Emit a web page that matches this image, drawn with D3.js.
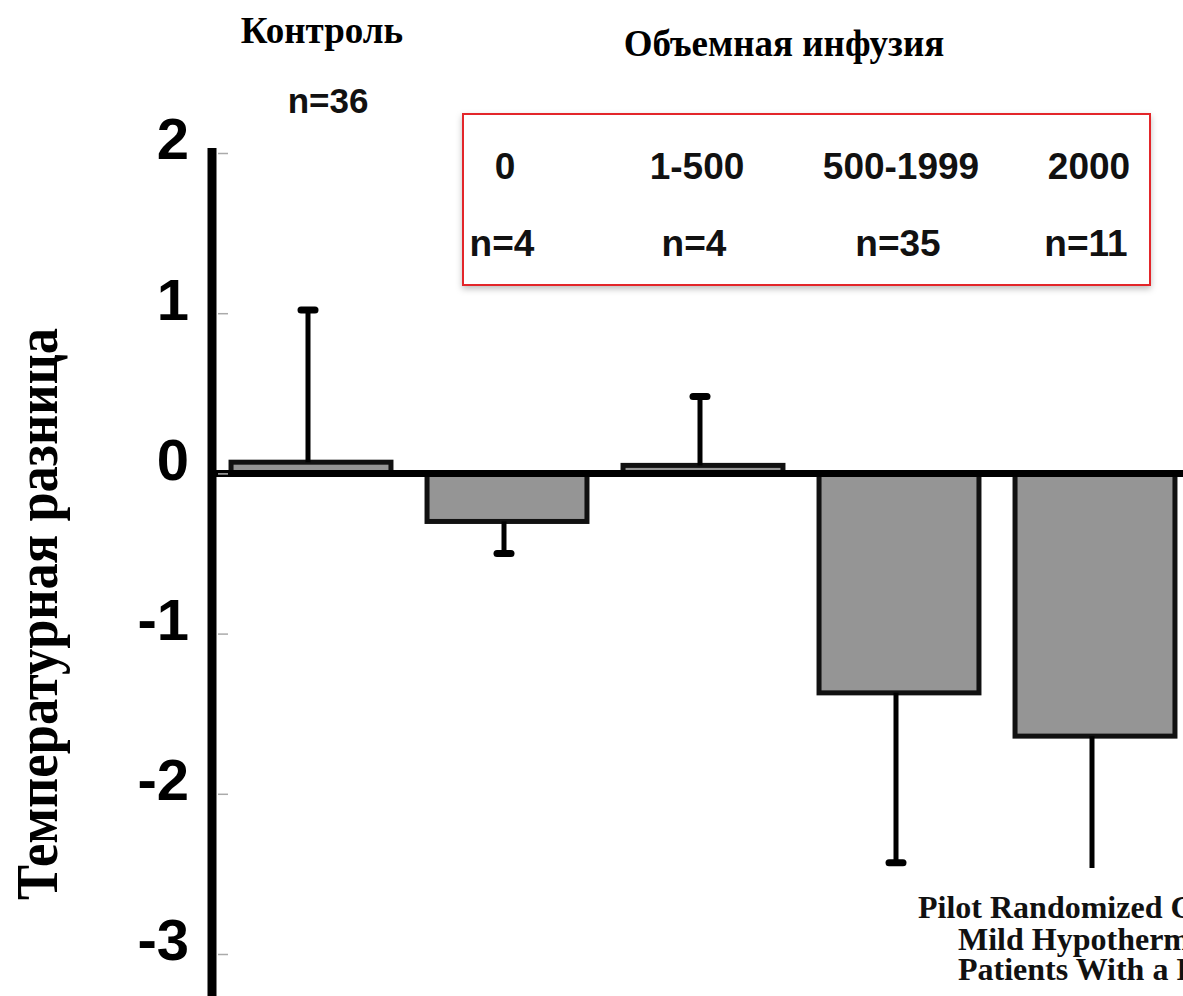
<!DOCTYPE html>
<html>
<head>
<meta charset="utf-8">
<script src="https://cdn.jsdelivr.net/npm/d3@7/dist/d3.min.js"></script>
<style>
  html, body { margin: 0; padding: 0; background: #fff; }
  svg { display: block; }
</style>
</head>
<body>
<svg id="chart" width="1183" height="996"></svg>
<script>
// Temperature difference by infused volume group (mean with one-sided error bar)
const categories = ["Контроль", "0", "1-500", "500-1999", "2000"];
const means = [0.07, -0.30, 0.05, -1.37, -1.64];
const errorEnds = [1.02, -0.50, 0.48, -2.43, -2.75];
const groupSizes = ["n=36", "n=4", "n=4", "n=35", "n=11"];
const yTicks = [2, 1, 0, -1, -2, -3];
const infusionGroups = categories.slice(1);
const infusionSizes = groupSizes.slice(1);
const captionLines = [
  "Pilot Randomized Clinical Trial",
  "Mild Hypothermia",
  "Patients With a Rapid Infusion"
];

const W = 1183, H = 996;
const svg = d3.select("#chart");

const x = d3.scaleBand()
  .domain(categories)
  .range([213, 1193])
  .paddingInner(0.184)
  .paddingOuter(0.092);

const y = d3.scaleLinear().domain([-3, 2]).range([954, 153]);

const sans = "'Liberation Sans', Arial, Helvetica, sans-serif";
const serif = "'Liberation Serif', 'Times New Roman', serif";

// Bars
svg.append("g").selectAll("rect")
  .data(categories)
  .join("rect")
  .attr("x", d => x(d))
  .attr("width", x.bandwidth())
  .attr("y", (d, i) => y(Math.max(0, means[i])))
  .attr("height", (d, i) => Math.abs(y(means[i]) - y(0)))
  .attr("fill", "#959595")
  .attr("stroke", "#111")
  .attr("stroke-width", 5);

// Zero baseline
svg.append("line")
  .attr("x1", 213).attr("x2", W)
  .attr("y1", y(0)).attr("y2", y(0))
  .attr("stroke", "#000").attr("stroke-width", 7);

// Error bars
const err = svg.append("g");
categories.forEach((c, i) => {
  const cx = x(c) + x.bandwidth() / 2 - 3;
  err.append("line")
    .attr("x1", cx).attr("x2", cx)
    .attr("y1", y(means[i])).attr("y2", y(errorEnds[i]))
    .attr("stroke", "#000").attr("stroke-width", 5);
  err.append("line")
    .attr("x1", cx - 7).attr("x2", cx + 7)
    .attr("y1", y(errorEnds[i])).attr("y2", y(errorEnds[i]))
    .attr("stroke", "#000").attr("stroke-width", 7)
    .attr("stroke-linecap", "round");
});

// Y axis: thin ticks to the right, labels to the left, heavy spine
const tickAxis = d3.axisRight(y).tickValues(yTicks).tickSize(10).tickFormat("");
svg.append("g").attr("transform", "translate(218,0)").call(tickAxis)
  .call(g => g.select(".domain").remove())
  .call(g => g.selectAll(".tick line").attr("stroke", "#aaa").attr("stroke-width", 1.5));

const labelAxis = d3.axisLeft(y).tickValues(yTicks).tickSize(0).tickPadding(0)
  .tickFormat(d => String(d));
svg.append("g").attr("transform", "translate(189,0)").call(labelAxis)
  .call(g => g.select(".domain").remove())
  .call(g => g.selectAll(".tick text")
    .attr("dy", "0.1em")
    .attr("font-family", sans)
    .attr("font-weight", "bold")
    .attr("font-size", 58)
    .attr("fill", "#000"));

svg.append("line")
  .attr("x1", 212).attr("x2", 212)
  .attr("y1", y(2) - 5).attr("y2", H)
  .attr("stroke", "#000").attr("stroke-width", 9);

// Y axis title
svg.append("text")
  .attr("transform", `translate(57,${(328 + 900) / 2}) rotate(-90)`)
  .attr("text-anchor", "middle")
  .attr("font-family", serif)
  .attr("font-weight", "bold")
  .attr("font-size", 60)
  .attr("textLength", 572)
  .attr("lengthAdjust", "spacingAndGlyphs")
  .text("Температурная разница");

// Group headers
svg.append("text")
  .attr("x", x(categories[0]) + x.bandwidth() / 2 + 11).attr("y", 43)
  .attr("text-anchor", "middle")
  .attr("font-family", serif).attr("font-weight", "bold").attr("font-size", 37)
  .text("Контроль");

svg.append("text")
  .attr("x", x(categories[0]) + x.bandwidth() / 2 + 17).attr("y", 113)
  .attr("text-anchor", "middle")
  .attr("font-family", sans).attr("font-weight", "bold").attr("font-size", 35)
  .attr("fill", "#111")
  .text(groupSizes[0]);

svg.append("text")
  .attr("x", 784).attr("y", 56)
  .attr("text-anchor", "middle")
  .attr("font-family", serif).attr("font-weight", "bold").attr("font-size", 37)
  .text("Объемная инфузия");

// Framed legend of infusion volume groups
const defs = svg.append("defs");
const shadow = defs.append("filter").attr("id", "boxShadow")
  .attr("x", "-5%").attr("y", "-10%").attr("width", "110%").attr("height", "125%");
shadow.append("feDropShadow")
  .attr("dx", 0).attr("dy", 3).attr("stdDeviation", 3)
  .attr("flood-color", "#000").attr("flood-opacity", 0.25);

svg.append("rect")
  .attr("x", 463).attr("y", 114)
  .attr("width", 687).attr("height", 171)
  .attr("fill", "#fff")
  .attr("stroke", "#e3262b").attr("stroke-width", 2)
  .attr("filter", "url(#boxShadow)");

const legend = svg.append("g")
  .attr("font-family", sans).attr("font-weight", "bold").attr("font-size", 37)
  .attr("fill", "#111").attr("text-anchor", "middle");
const legendOffsets = [-2, -6, 2, -6];
legend.selectAll("text.vol")
  .data(infusionGroups)
  .join("text")
  .attr("class", "vol")
  .attr("x", (d, i) => x(d) + x.bandwidth() / 2 + legendOffsets[i])
  .attr("y", 179)
  .text(d => d);
legend.selectAll("text.size")
  .data(infusionSizes)
  .join("text")
  .attr("class", "size")
  .attr("x", (d, i) => x(infusionGroups[i]) + x.bandwidth() / 2 + legendOffsets[i] - 3)
  .attr("y", 256)
  .text(d => d);

// Source caption in the lower right corner, running off the page edge
svg.append("rect")
  .attr("x", 905).attr("y", 868)
  .attr("width", W - 905).attr("height", H - 868)
  .attr("fill", "#fff");

const caption = svg.append("g")
  .attr("font-family", serif).attr("font-weight", "bold").attr("font-size", 32)
  .attr("fill", "#111");
const captionX = [918, 958, 958];
const captionY = [918, 950, 980];
caption.selectAll("text")
  .data(captionLines)
  .join("text")
  .attr("x", (d, i) => captionX[i])
  .attr("y", (d, i) => captionY[i])
  .text(d => d);
</script>
</body>
</html>
